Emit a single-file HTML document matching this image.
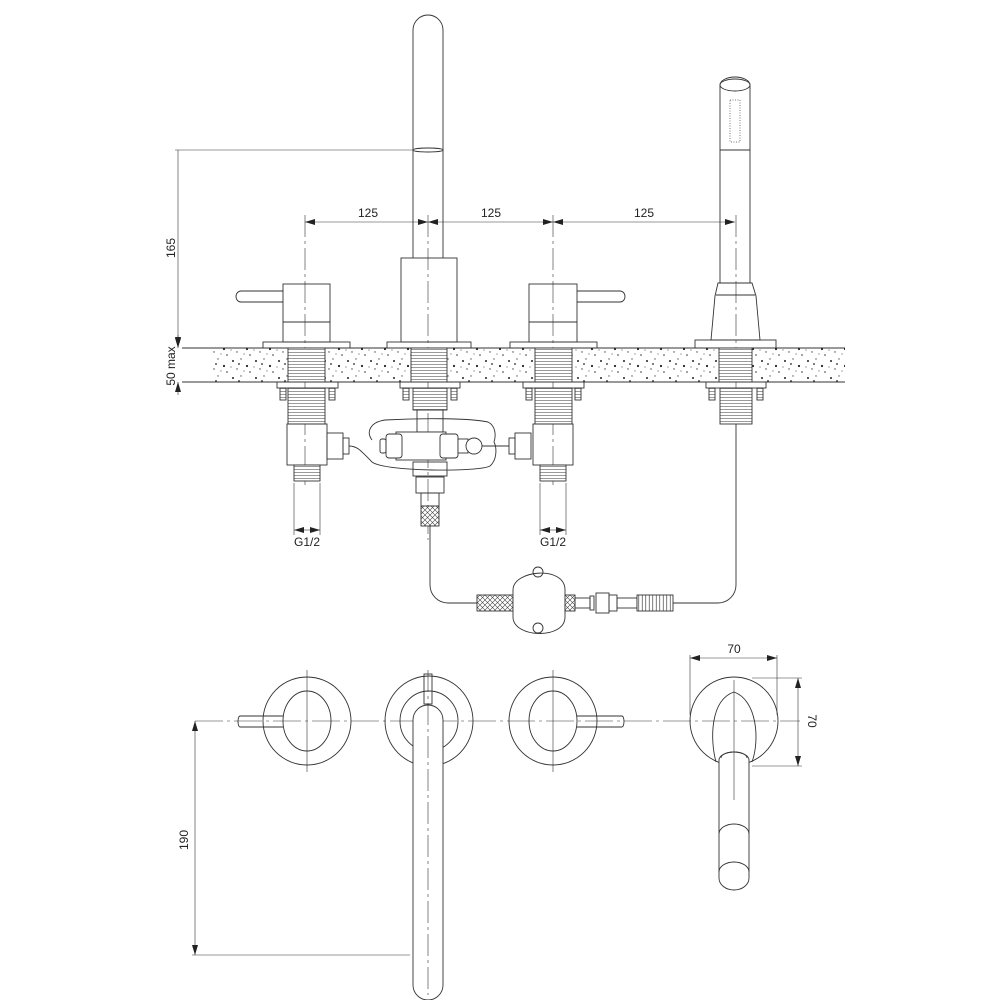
<!DOCTYPE html>
<html><head><meta charset="utf-8"><style>
html,body{margin:0;padding:0;background:#fff;}
svg{display:block;}
text{font-family:"Liberation Sans",sans-serif;font-size:12px;fill:#222;}
</style></head><body>
<svg width="1000" height="1000" viewBox="0 0 1000 1000" xmlns="http://www.w3.org/2000/svg">
<defs>
<pattern id="sp" width="23" height="17" patternUnits="userSpaceOnUse">
<rect width="23" height="17" fill="#fff"/>
<circle cx="3" cy="4" r="1" fill="#222"/><circle cx="11" cy="2" r="0.7" fill="#555"/>
<circle cx="17" cy="9" r="1.1" fill="#222"/><circle cx="7" cy="12" r="0.7" fill="#444"/>
<circle cx="20" cy="15" r="0.8" fill="#333"/><circle cx="14" cy="14" r="0.6" fill="#666"/>
<circle cx="1" cy="10" r="0.6" fill="#666"/><circle cx="9" cy="7" r="0.9" fill="#222"/>
</pattern>
<pattern id="th" width="6" height="3" patternUnits="userSpaceOnUse">
<rect width="6" height="3" fill="#fff"/><line x1="0" y1="1.5" x2="6" y2="1.5" stroke="#555" stroke-width="0.6"/>
</pattern>
<pattern id="vt" width="3.5" height="6" patternUnits="userSpaceOnUse">
<rect width="3.5" height="6" fill="#fff"/><line x1="1.75" y1="0" x2="1.75" y2="6" stroke="#444" stroke-width="0.7"/>
</pattern>
<pattern id="br" width="5" height="5" patternUnits="userSpaceOnUse">
<rect width="5" height="5" fill="#fff"/><path d="M0 0L5 5M5 0L0 5" stroke="#444" stroke-width="0.6"/>
</pattern>
<marker id="a" viewBox="0 0 10 6" refX="10" refY="3" markerWidth="10" markerHeight="6" orient="auto-start-reverse" markerUnits="userSpaceOnUse"><path d="M0 0L10 3L0 6Z" fill="#222"/></marker>
</defs>
<g fill="none" stroke="#333" stroke-width="0.9">
<!-- counter -->
<rect x="212" y="348" width="633" height="34" fill="url(#sp)" stroke="none"/>
<line x1="182" y1="348" x2="845" y2="348"/><line x1="182" y1="382" x2="845" y2="382"/>
<!-- dims left -->
<line x1="175" y1="150" x2="413" y2="150" stroke-width="0.6"/>
<line x1="178" y1="150" x2="178" y2="347" marker-end="url(#a)" stroke-width="0.6"/>
<line x1="178" y1="335" x2="178" y2="348" marker-end="url(#a)" stroke-width="0.6"/>
<line x1="178" y1="395" x2="178" y2="382" marker-end="url(#a)" stroke-width="0.6"/>
<!-- 125 dims -->
<line x1="305" y1="222" x2="428" y2="222" marker-start="url(#a)" marker-end="url(#a)" stroke-width="0.6"/>
<line x1="428" y1="222" x2="553" y2="222" marker-start="url(#a)" marker-end="url(#a)" stroke-width="0.6"/>
<line x1="553" y1="222" x2="735" y2="222" marker-start="url(#a)" marker-end="url(#a)" stroke-width="0.6"/>
<!-- centerlines -->
<g stroke-width="0.6" stroke-dasharray="22,4,3,4">
<line x1="305" y1="215" x2="305" y2="485"/><line x1="428" y1="215" x2="428" y2="540"/>
<line x1="553" y1="215" x2="553" y2="485"/><line x1="736" y1="215" x2="736" y2="420"/>
</g>
<!-- spout -->
<path d="M413 258V30a15 15 0 0 1 30 0V258"/>
<ellipse cx="428" cy="150" rx="15" ry="2"/>
<rect x="401" y="258" width="56" height="84"/>
<rect x="387" y="342" width="84" height="6"/>
<rect x="411" y="348" width="36" height="34" fill="url(#th)"/>
<!-- left valve -->
<path d="M283 291H241a5 5.5 0 0 0 0 11H283"/>
<rect x="283" y="284" width="47" height="58"/><line x1="283" y1="322" x2="330" y2="322"/>
<rect x="263" y="342" width="87" height="6"/>
<rect x="288" y="348" width="37" height="34" fill="url(#th)"/>
<rect x="277" y="382" width="61" height="6"/>
<rect x="280" y="388" width="6" height="12" fill="url(#th)"/><rect x="329" y="388" width="6" height="12" fill="url(#th)"/>
<rect x="288" y="388" width="37" height="36" fill="url(#th)"/>
<rect x="287" y="424" width="40" height="41"/>
<rect x="294" y="465" width="26" height="16" fill="url(#th)"/>
<rect x="327" y="433" width="16" height="26"/><rect x="343" y="438" width="6" height="16"/>
<!-- right valve -->
<path d="M577 291H620a5 5.5 0 0 1 0 11H577"/>
<rect x="529" y="284" width="48" height="58"/><line x1="529" y1="322" x2="577" y2="322"/>
<rect x="510" y="342" width="87" height="6"/>
<rect x="535" y="348" width="37" height="34" fill="url(#th)"/>
<rect x="523" y="382" width="61" height="6"/>
<rect x="526" y="388" width="6" height="12" fill="url(#th)"/><rect x="575" y="388" width="6" height="12" fill="url(#th)"/>
<rect x="535" y="388" width="37" height="36" fill="url(#th)"/>
<rect x="533" y="424" width="40" height="41"/>
<rect x="540" y="465" width="26" height="16" fill="url(#th)"/>
<rect x="515" y="433" width="16" height="26"/><rect x="509" y="438" width="6" height="16"/>
<!-- center under counter -->
<rect x="400" y="382" width="60" height="6"/>
<rect x="403" y="388" width="6" height="12" fill="url(#th)"/><rect x="451" y="388" width="6" height="12" fill="url(#th)"/>
<rect x="413" y="388" width="34" height="22" fill="url(#th)"/>
<rect x="417" y="410" width="26" height="22"/>
<path d="M349 446C358 446 362 452 372 462C385 472 480 472 490 466C497 460 497 448 494 442"/>
<path d="M372 440C366 432 370 422 385 420C420 418 470 418 488 422C496 426 496 436 494 442"/>
<line x1="482" y1="446" x2="509" y2="446"/>
<rect x="396" y="432" width="50" height="28" fill="#fff"/>
<rect x="386" y="434" width="16" height="24" rx="3" fill="#fff"/>
<rect x="380" y="439" width="6" height="14" rx="2"/>
<rect x="440" y="434" width="18" height="24" rx="3" fill="#fff"/>
<rect x="458" y="439" width="10" height="14" fill="#fff"/>
<circle cx="474" cy="446" r="8" fill="#fff"/>
<rect x="413" y="462" width="34" height="14"/>
<rect x="416" y="477" width="28" height="16"/>
<rect x="421" y="493" width="18" height="13"/>
<rect x="421" y="506" width="18" height="20" fill="url(#br)"/>
<!-- hand shower -->
<path d="M720 283V85a15 8 0 0 1 30 0V283"/>
<ellipse cx="735" cy="85" rx="15" ry="6"/>
<line x1="720" y1="150" x2="750" y2="150"/>
<rect x="730" y="100" width="10" height="42" fill="none" stroke="#777" stroke-dasharray="1,1.5" stroke-width="1"/>
<path d="M718 283H752L756 296L760 340H711L715 296Z"/>
<line x1="716" y1="295" x2="755" y2="295"/>
<rect x="695" y="340" width="81" height="8"/>
<rect x="719" y="348" width="33" height="34" fill="url(#th)"/>
<rect x="706" y="382" width="60" height="6"/>
<rect x="709" y="388" width="6" height="12" fill="url(#th)"/><rect x="757" y="388" width="6" height="12" fill="url(#th)"/>
<rect x="720" y="388" width="32" height="36" fill="url(#th)"/>
<!-- hose -->
<path d="M430 526V585a18 18 0 0 0 18 18H477"/>
<path d="M673 603H718a18 18 0 0 0 18-18V424"/>
<rect x="477" y="595" width="36" height="16" fill="url(#br)"/>
<path d="M513 590C513 570 565 565 565 590V617C565 640 513 638 513 617Z" fill="#fff"/>
<circle cx="538" cy="572" r="5"/>
<circle cx="538" cy="628" r="5"/>
<rect x="565" y="595" width="10" height="16" fill="url(#br)"/>
<rect x="575" y="598" width="15" height="10"/>
<rect x="590" y="596" width="4" height="14"/>
<rect x="596" y="593" width="13" height="20"/>
<rect x="609" y="595" width="8" height="16"/>
<rect x="617" y="598" width="20" height="10"/>
<rect x="637" y="595" width="36" height="16" fill="url(#vt)"/>
<!-- G1/2 -->
<g stroke-width="0.6">
<line x1="294" y1="483" x2="294" y2="535"/><line x1="320" y1="483" x2="320" y2="535"/>
<line x1="294" y1="530" x2="307" y2="530" marker-start="url(#a)"/><line x1="307" y1="530" x2="320" y2="530" marker-end="url(#a)"/>
<line x1="540" y1="483" x2="540" y2="535"/><line x1="566" y1="483" x2="566" y2="535"/>
<line x1="540" y1="530" x2="553" y2="530" marker-start="url(#a)"/><line x1="553" y1="530" x2="566" y2="530" marker-end="url(#a)"/>
</g>

<!-- bottom views -->
<line x1="195" y1="721" x2="800" y2="721" stroke-width="0.6" stroke-dasharray="28,4,3,4"/>
<circle cx="307" cy="721" r="44"/><ellipse cx="307" cy="721" rx="24" ry="30"/>
<path d="M283 716H240a2 5.5 0 0 0 0 11H283"/>
<line x1="307" y1="670" x2="307" y2="772" stroke-width="0.6"/>
<circle cx="553" cy="721" r="44"/><ellipse cx="553" cy="721" rx="24" ry="30"/>
<path d="M577 716H622a2 5.5 0 0 1 0 11H577"/>
<line x1="553" y1="670" x2="553" y2="772" stroke-width="0.6"/>
<ellipse cx="429" cy="721" rx="44" ry="45"/><ellipse cx="429" cy="721" rx="29" ry="30"/>
<rect x="424" y="674" width="8" height="30"/>
<path d="M413 985V720a15 15 0 0 1 30 0V985a15 15 0 0 1-30 0Z" fill="#fff"/>
<line x1="428" y1="670" x2="428" y2="995" stroke-width="0.6" stroke-dasharray="22,4,3,4"/>
<!-- right bottom -->
<ellipse cx="734" cy="721" rx="44" ry="44"/>
<path d="M716 762C710 740 710 700 734 692C757 700 760 740 752 762"/>
<path d="M719 760V878a15 12 0 0 0 30 0V760a15 8 0 0 0-30 0Z" fill="#fff"/>
<path d="M721 758a13 6 0 0 1 26 0"/>
<path d="M719 872a15 10 0 0 1 30 0"/><path d="M719 834a15 10 0 0 1 30 0"/>
<line x1="734" y1="680" x2="734" y2="800" stroke-width="0.6"/>
<g stroke-width="0.6">
<line x1="690" y1="655" x2="690" y2="715"/><line x1="777" y1="655" x2="777" y2="715"/>
<line x1="690" y1="658" x2="777" y2="658" marker-start="url(#a)" marker-end="url(#a)"/>
<line x1="752" y1="678" x2="802" y2="678"/><line x1="752" y1="766" x2="802" y2="766"/>
<line x1="798" y1="678" x2="798" y2="766" marker-start="url(#a)" marker-end="url(#a)"/>
<line x1="195" y1="721" x2="195" y2="955" marker-start="url(#a)" marker-end="url(#a)"/>
<line x1="192" y1="955" x2="410" y2="955"/>
</g>
</g>
<text x="368" y="217" text-anchor="middle">125</text>
<text x="491" y="217" text-anchor="middle">125</text>
<text x="644" y="217" text-anchor="middle">125</text>
<text transform="translate(175 248) rotate(-90)" text-anchor="middle">165</text>
<text transform="translate(175 366) rotate(-90)" text-anchor="middle">50 max</text>
<text x="307" y="546" text-anchor="middle">G1/2</text>
<text x="553" y="546" text-anchor="middle">G1/2</text>
<text x="734" y="653" text-anchor="middle">70</text>
<text transform="translate(808 721) rotate(90)" text-anchor="middle">70</text>
<text transform="translate(188 840) rotate(-90)" text-anchor="middle">190</text>
</svg>
</body></html>
